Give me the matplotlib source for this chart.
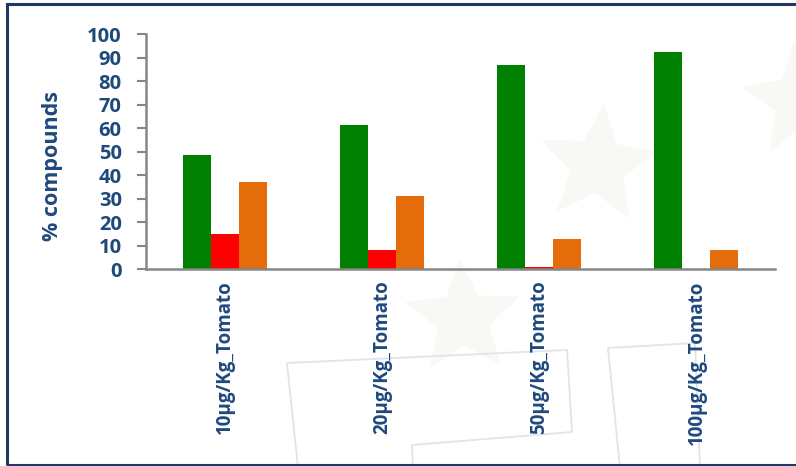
import matplotlib
matplotlib.use("Agg")
import matplotlib.pyplot as plt
import numpy as np
from matplotlib.patches import Polygon, Rectangle
from matplotlib.lines import Line2D

categories = ["10µg/Kg_Tomato", "20µg/Kg_Tomato", "50µg/Kg_Tomato", "100µg/Kg_Tomato"]
green_vals = [48.5, 61.3, 86.8, 92.5]
red_vals = [15.0, 8.2, 1.1, 0.0]
orange_vals = [37.0, 31.2, 12.8, 8.2]
y_ticks = [0, 10, 20, 30, 40, 50, 60, 70, 80, 90, 100]

W, H = 796, 466
fig = plt.figure(figsize=(W / 100, H / 100), dpi=100)
fig.patch.set_facecolor("white")

def fx(x):
    return x / W

def fy(y):
    return 1 - y / H

# faint background decoration
def star(cx, cy, r_out, r_in, rot=0.0):
    pts = []
    for i in range(10):
        r = r_out if i % 2 == 0 else r_in
        a = np.pi / 2 + rot + i * np.pi / 5
        pts.append((fx(cx + r * np.cos(a)), fy(cy - r * np.sin(a))))
    return pts

for cx, cy, ro, rot in [(463, 318, 60, 0.05), (598, 165, 62, -0.1), (800, 100, 60, 0.1)]:
    fig.add_artist(Polygon(star(cx, cy, ro, ro * 0.45, rot), closed=True,
                           transform=fig.transFigure, facecolor="#f8f8f5",
                           edgecolor="none", zorder=0))

outline_col = "#dfe5ec"
for pts in [
    [(298, 468), (287, 363), (567, 350), (572, 432), (412, 445), (413, 468)],
    [(620, 468), (608, 348), (695, 343), (700, 468)],
]:
    fig.add_artist(Line2D([fx(p[0]) for p in pts], [fy(p[1]) for p in pts],
                          transform=fig.transFigure, color=outline_col,
                          linewidth=1.3, zorder=0))

# frame around the figure
fig.add_artist(Rectangle((fx(7), fy(465)), fx(796 + 10) - fx(7), fy(4) - fy(465),
                         transform=fig.transFigure, fill=False,
                         edgecolor="#1F3864", linewidth=2.2, zorder=5))

ax = fig.add_axes([fx(146), fy(269.3), fx(775) - fx(146), fy(34.3) - fy(269.3)])
ax.set_facecolor("none")

x = np.arange(len(categories))
w = 0.178
ax.bar(x - w, green_vals, w, color="#008000", linewidth=0)
ax.bar(x, red_vals, w, color="#FF0000", linewidth=0)
ax.bar(x + w, orange_vals, w, color="#E46C0A", linewidth=0)

ax.set_xlim(-0.5, len(categories) - 0.5)
ax.set_ylim(0, 100)

label_col = "#1F497D"
font = "Open Sans"
ax.set_yticks(y_ticks)
ax.set_yticklabels([str(v) for v in y_ticks], fontsize=14.5, fontweight="bold",
                   color=label_col, family=font)
ax.set_xticks(x)
ax.set_xticklabels(categories, rotation=90, fontsize=13.5, fontweight="bold",
                   color=label_col, family=font, va="top", ha="center")
ax.tick_params(axis="y", length=6.5, width=1.5, color="#868686", pad=11)
ax.tick_params(axis="x", length=0, pad=8)

fig.text(fx(53), fy(166), "% compounds", rotation=90, ha="center", va="center",
         fontsize=15.5, fontweight="bold", color=label_col, family=font)

for s in ["top", "right"]:
    ax.spines[s].set_visible(False)
for s in ["left", "bottom"]:
    ax.spines[s].set_color("#868686")
    ax.spines[s].set_linewidth(1.8)

fig.savefig("out.png", dpi=100, facecolor="white")
